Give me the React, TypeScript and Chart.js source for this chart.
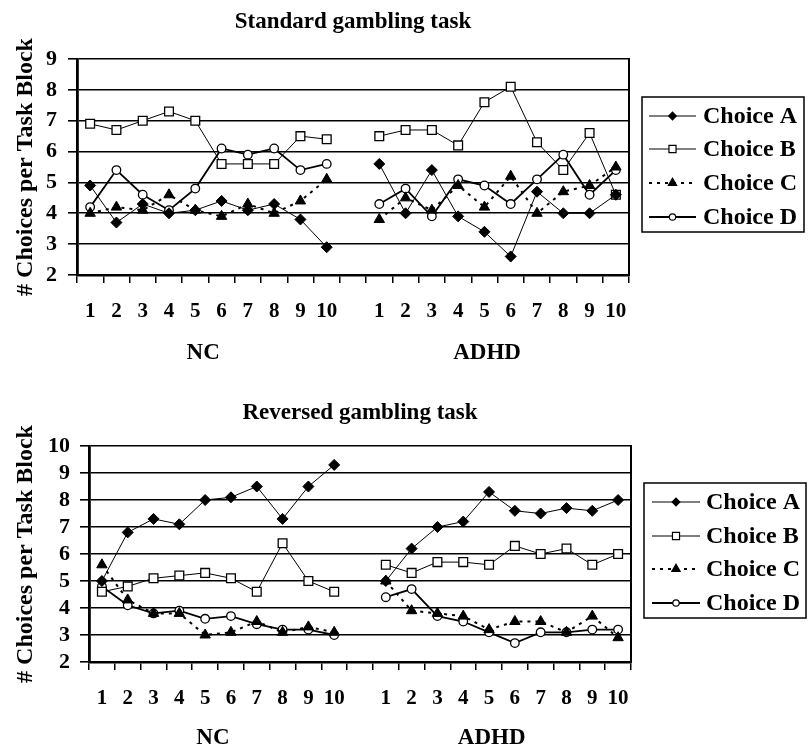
import React, { useEffect, useRef } from 'react';
import { Chart, registerables } from 'chart.js';
Chart.register(...registerables);

// ---------- data ----------
const blockLabels = ['1', '2', '3', '4', '5', '6', '7', '8', '9', '10'];
const groupLabels = ['NC', 'ADHD'];
const seriesNames = ['Choice A', 'Choice B', 'Choice C', 'Choice D'];
const stdTitle = 'Standard gambling task';
const revTitle = 'Reversed gambling task';
const yTitle = '# Choices per Task Block';
const stdYRange = [2, 9];
const revYRange = [2, 10];

// Standard gambling task
const stdNC_A = [4.9, 3.7, 4.3, 4.0, 4.1, 4.4, 4.1, 4.3, 3.8, 2.9];
const stdNC_B = [6.9, 6.7, 7.0, 7.3, 7.0, 5.6, 5.6, 5.6, 6.5, 6.4];
const stdNC_C = [4.0, 4.2, 4.1, 4.6, 4.1, 3.9, 4.3, 4.0, 4.4, 5.1];
const stdNC_D = [4.2, 5.4, 4.6, 4.1, 4.8, 6.1, 5.9, 6.1, 5.4, 5.6];
const stdADHD_A = [5.6, 4.0, 5.4, 3.9, 3.4, 2.6, 4.7, 4.0, 4.0, 4.6];
const stdADHD_B = [6.5, 6.7, 6.7, 6.2, 7.6, 8.1, 6.3, 5.4, 6.6, 4.6];
const stdADHD_C = [3.8, 4.5, 4.1, 4.9, 4.2, 5.2, 4.0, 4.7, 4.9, 5.5];
const stdADHD_D = [4.3, 4.8, 3.9, 5.1, 4.9, 4.3, 5.1, 5.9, 4.6, 5.4];

// Reversed gambling task
const revNC_A = [5.0, 6.8, 7.3, 7.1, 8.0, 8.1, 8.5, 7.3, 8.5, 9.3];
const revNC_B = [4.6, 4.8, 5.1, 5.2, 5.3, 5.1, 4.6, 6.4, 5.0, 4.6];
const revNC_C = [5.6, 4.3, 3.8, 3.8, 3.0, 3.1, 3.5, 3.1, 3.3, 3.1];
const revNC_D = [4.8, 4.1, 3.8, 3.9, 3.6, 3.7, 3.4, 3.2, 3.2, 3.0];
const revADHD_A = [5.0, 6.2, 7.0, 7.2, 8.3, 7.6, 7.5, 7.7, 7.6, 8.0];
const revADHD_B = [5.6, 5.3, 5.7, 5.7, 5.6, 6.3, 6.0, 6.2, 5.6, 6.0];
const revADHD_C = [5.0, 3.9, 3.8, 3.7, 3.2, 3.5, 3.5, 3.1, 3.7, 2.9];
const revADHD_D = [4.4, 4.7, 3.7, 3.5, 3.1, 2.7, 3.1, 3.1, 3.2, 3.2];

// ---------- styles ----------
const FONT = '"Liberation Serif", "Times New Roman", serif';
const seriesStyles = [
  { pointStyle: 'rectRot', r: 5.5, lr: 3.8, fill: '#000', lw: 1, dash: [] as number[], pbw: 1 },
  { pointStyle: 'rect', r: 6.2, lr: 5, fill: '#fff', lw: 1, dash: [] as number[], pbw: 1.3 },
  { pointStyle: 'triangle', r: 6, lr: 4.8, fill: '#000', lw: 2, dash: [3, 5], pbw: 1 },
  { pointStyle: 'circle', r: 4.3, lr: 3.2, fill: '#fff', lw: 1.8, dash: [] as number[], pbw: 1.3 },
];

function joinGroups(nc: number[], adhd: number[]) {
  return [...nc, null, ...adhd];
}

function drawMarker(ctx: CanvasRenderingContext2D, style: string, x: number, y: number, r: number, fill: string) {
  ctx.save();
  ctx.setLineDash([]);
  ctx.beginPath();
  if (style === 'rectRot') {
    ctx.moveTo(x - r, y); ctx.lineTo(x, y - r); ctx.lineTo(x + r, y); ctx.lineTo(x, y + r); ctx.closePath();
  } else if (style === 'rect') {
    const s = r * Math.SQRT1_2;
    ctx.rect(x - s, y - s, 2 * s, 2 * s);
  } else if (style === 'triangle') {
    ctx.moveTo(x, y - r);
    ctx.lineTo(x + r * Math.sin(2 * Math.PI / 3), y - r * Math.cos(2 * Math.PI / 3));
    ctx.lineTo(x + r * Math.sin(4 * Math.PI / 3), y - r * Math.cos(4 * Math.PI / 3));
    ctx.closePath();
  } else {
    ctx.arc(x, y, r, 0, Math.PI * 2);
  }
  ctx.fillStyle = fill;
  ctx.fill();
  ctx.lineWidth = 1.2;
  ctx.strokeStyle = '#000';
  ctx.stroke();
  ctx.restore();
}

type Layout = {
  pad: { left: number; right: number; top: number; bottom: number };
  yTickPad: number;
  titleY: number;
  yTitleX: number;
  groupY: number;
  groupIdx: number[];
  legend: { x: number; y: number; w: number; h: number; rows: number[]; lx0: number; lx1: number; tx: number };
};

function makeDecor(title: string, L: Layout) {
  return {
    id: 'decor',
    afterDraw(chart: any) {
      const { ctx, chartArea } = chart;
      const xs = chart.scales.x;
      ctx.save();
      // right border
      ctx.strokeStyle = '#000';
      ctx.lineWidth = 2;
      ctx.beginPath();
      ctx.moveTo(chartArea.right, chartArea.top - 1);
      ctx.lineTo(chartArea.right, chartArea.bottom + 1);
      ctx.stroke();
      // title
      ctx.fillStyle = '#000';
      ctx.font = `bold 23px ${FONT}`;
      ctx.textAlign = 'center';
      ctx.textBaseline = 'alphabetic';
      ctx.fillText(title, (chartArea.left + chartArea.right) / 2, L.titleY);
      // y title
      ctx.save();
      ctx.translate(L.yTitleX, (chartArea.top + chartArea.bottom) / 2);
      ctx.rotate(-Math.PI / 2);
      ctx.font = `bold 24px ${FONT}`;
      ctx.fillText(yTitle, 0, 0);
      ctx.restore();
      // group labels
      ctx.font = `bold 23px ${FONT}`;
      groupLabels.forEach((g, i) => {
        ctx.fillText(g, xs.getPixelForValue(L.groupIdx[i]), L.groupY);
      });
      // legend
      const lg = L.legend;
      ctx.lineWidth = 1.5;
      ctx.strokeStyle = '#000';
      ctx.strokeRect(lg.x, lg.y, lg.w, lg.h);
      ctx.font = `bold 24px ${FONT}`;
      ctx.textAlign = 'left';
      ctx.textBaseline = 'middle';
      seriesNames.forEach((name, i) => {
        const st = seriesStyles[i];
        const y = lg.rows[i];
        ctx.save();
        ctx.lineWidth = st.lw;
        ctx.setLineDash(st.dash);
        ctx.beginPath();
        ctx.moveTo(lg.lx0, y);
        ctx.lineTo(lg.lx1, y);
        ctx.stroke();
        ctx.restore();
        drawMarker(ctx, st.pointStyle, (lg.lx0 + lg.lx1) / 2, y, st.lr, st.fill);
        ctx.fillStyle = '#000';
        ctx.fillText(name, lg.tx, y + 1);
      });
      ctx.restore();
    },
  };
}

function makeConfig(title: string, yRange: number[], series: (number | null)[][], L: Layout): any {
  const labels = [...blockLabels, '', ...blockLabels];
  return {
    type: 'line',
    data: {
      labels,
      datasets: series.map((d, i) => {
        const st = seriesStyles[i];
        return {
          label: seriesNames[i],
          data: d,
          borderColor: '#000',
          borderWidth: st.lw,
          borderDash: st.dash,
          backgroundColor: st.fill,
          pointStyle: st.pointStyle,
          pointRadius: st.r,
          pointBackgroundColor: st.fill,
          pointBorderColor: '#000',
          pointBorderWidth: st.pbw,
          tension: 0,
          spanGaps: false,
          fill: false,
        };
      }),
    },
    options: {
      responsive: false,
      animation: false,
      devicePixelRatio: 1,
      events: [],
      layout: { padding: L.pad },
      plugins: {
        legend: { display: false },
        title: { display: false },
        tooltip: { enabled: false },
      },
      scales: {
        x: {
          type: 'category',
          offset: true,
          grid: {
            display: true,
            offset: true,
            drawOnChartArea: false,
            drawTicks: true,
            tickLength: 8,
            color: '#000',
            lineWidth: 1.5,
          },
          border: { display: true, color: '#000', width: 2.5 },
          ticks: {
            autoSkip: false,
            maxRotation: 0,
            minRotation: 0,
            padding: 16,
            color: '#000',
            font: { family: FONT, size: 21, weight: 'bold' },
          },
          afterFit: (s: any) => { s.height = 60; },
        },
        y: {
          type: 'linear',
          min: yRange[0],
          max: yRange[1],
          ticks: {
            stepSize: 1,
            autoSkip: false,
            padding: L.yTickPad,
            color: '#000',
            font: { family: FONT, size: 22, weight: 'bold' },
          },
          grid: { color: '#000', lineWidth: 1.6, tickLength: 9, drawTicks: true },
          border: { display: true, color: '#000', width: 2.8 },
          afterFit: (s: any) => { s.width = 40; },
        },
      },
    },
    plugins: [makeDecor(title, L)],
  };
}

const topLayout: Layout = {
  pad: { left: 37, right: 179, top: 59, bottom: 38 },
  yTickPad: 11,
  titleY: 28,
  yTitleX: 32,
  groupY: 359,
  groupIdx: [4.3, 15.1],
  legend: { x: 642, y: 97, w: 162, h: 135, rows: [116, 149, 183, 217], lx0: 649, lx1: 696, tx: 703 },
};

const bottomLayout: Layout = {
  pad: { left: 49, right: 177, top: 73, bottom: 24 },
  yTickPad: 10,
  titleY: 46,
  yTitleX: 32,
  groupY: 371,
  groupIdx: [4.3, 15.1],
  legend: { x: 644, y: 110, w: 162, h: 135, rows: [129, 163, 196, 230], lx0: 652, lx1: 700, tx: 706 },
};

function ChartCanvas({ config, top }: { config: () => any; top: number }) {
  const ref = useRef<HTMLCanvasElement | null>(null);
  useEffect(() => {
    if (!ref.current) return;
    const chart = new Chart(ref.current, config());
    return () => chart.destroy();
  }, []);
  return (
    <canvas
      ref={ref}
      width={808}
      height={373}
      style={{ position: 'absolute', left: 0, top, width: 808, height: 373, display: 'block' }}
    />
  );
}

export default function App() {
  const stdSeries = [
    joinGroups(stdNC_A, stdADHD_A),
    joinGroups(stdNC_B, stdADHD_B),
    joinGroups(stdNC_C, stdADHD_C),
    joinGroups(stdNC_D, stdADHD_D),
  ];
  const revSeries = [
    joinGroups(revNC_A, revADHD_A),
    joinGroups(revNC_B, revADHD_B),
    joinGroups(revNC_C, revADHD_C),
    joinGroups(revNC_D, revADHD_D),
  ];
  return (
    <div style={{ position: 'absolute', left: 0, top: 0, width: 808, height: 746, background: '#fff' }}>
      <ChartCanvas top={0} config={() => makeConfig(stdTitle, stdYRange, stdSeries, topLayout)} />
      <ChartCanvas top={373} config={() => makeConfig(revTitle, revYRange, revSeries, bottomLayout)} />
    </div>
  );
}
